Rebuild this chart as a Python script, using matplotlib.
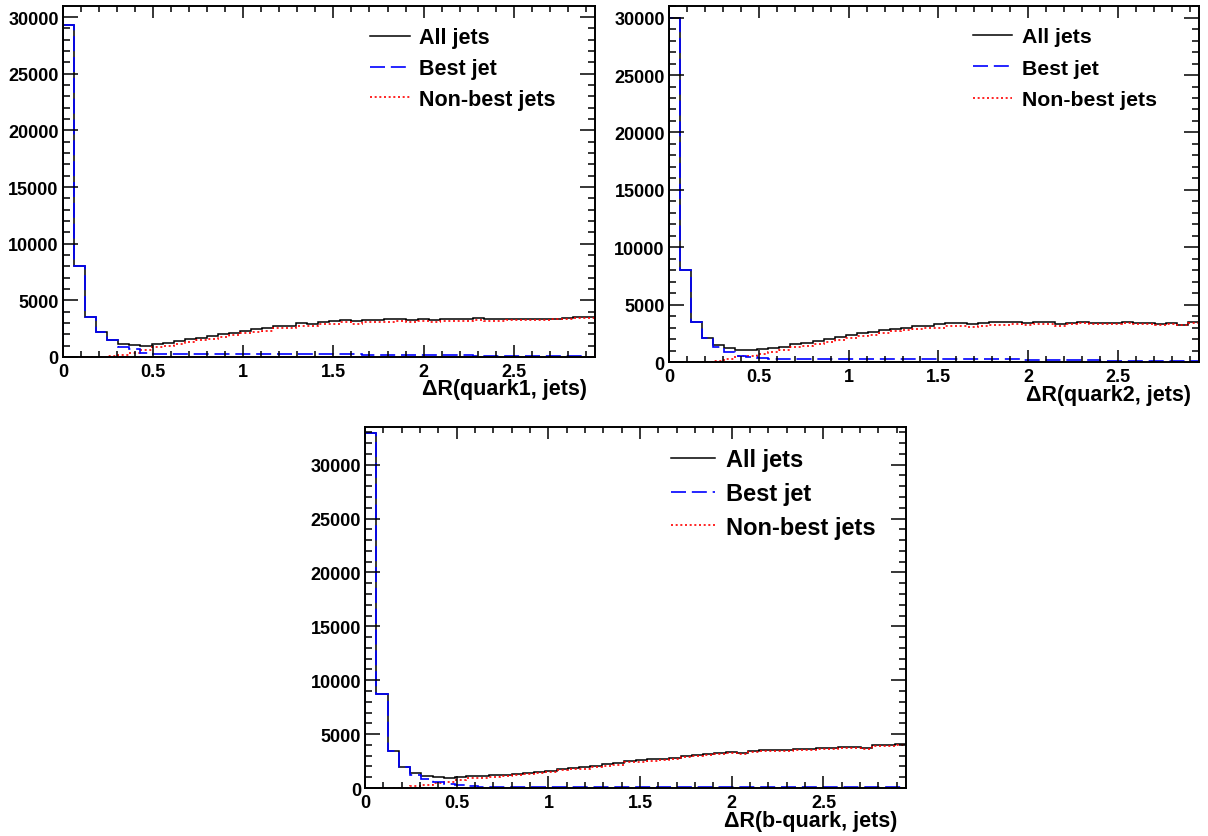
import numpy as np
import matplotlib
matplotlib.use("Agg")
import matplotlib.pyplot as plt
from matplotlib.ticker import MultipleLocator, FixedLocator, FixedFormatter
from matplotlib.lines import Line2D

plt.rcParams['font.family'] = ['Liberation Sans', 'DejaVu Sans']
plt.rcParams['font.weight'] = 'bold'

# ---------------- data ----------------
XMIN, XMAX, NBINS = 0.0, 2.95, 48
series_labels = ["All jets", "Best jet", "Non-best jets"]
xlabels = ["\u0394R(quark1, jets)", "\u0394R(quark2, jets)", "\u0394R(b-quark, jets)"]
xtick_vals = [0, 0.5, 1, 1.5, 2, 2.5]
xtick_labels = ["0", "0.5", "1", "1.5", "2", "2.5"]
ytick_vals = [0, 5000, 10000, 15000, 20000, 25000, 30000]
ytick_labels = ["0", "5000", "10000", "15000", "20000", "25000", "30000"]

all1 = [29300, 8000, 3530, 2210, 1530, 1180, 1030, 940, 1120, 1240, 1380, 1560,
        1710, 1820, 2030, 2150, 2320, 2440, 2560, 2760, 2760, 3000, 2940, 3120,
        3150, 3290, 3150, 3290, 3260, 3320, 3380, 3240, 3350, 3260, 3320, 3350,
        3350, 3410, 3320, 3320, 3380, 3350, 3350, 3350, 3380, 3410, 3530, 3500]
best1 = [29300, 8000, 3530, 2210, 1470, 880, 680, 350, 280, 260, 250, 250,
         240, 240, 240, 240, 240, 230, 230, 230, 230, 230, 230, 230,
         230, 220, 220, 210, 210, 200, 200, 190, 180, 170, 160, 150,
         140, 130, 120, 110, 100, 90, 80, 70, 60, 60, 50, 40]
nonbest1 = [0, 0, 10, 20, 50, 200, 350, 590, 840, 980, 1130, 1310,
            1470, 1580, 1790, 1910, 2080, 2210, 2330, 2530, 2530, 2770, 2710, 2890,
            2920, 3070, 2930, 3080, 3050, 3120, 3180, 3050, 3170, 3090, 3160, 3200,
            3210, 3280, 3200, 3210, 3280, 3260, 3270, 3280, 3320, 3350, 3480, 3460]

all2 = [30000, 8020, 3490, 2060, 1450, 1220, 1080, 1050, 1100, 1250, 1340, 1540,
        1660, 1800, 1980, 2150, 2380, 2500, 2590, 2760, 2910, 2990, 3110, 3170,
        3280, 3400, 3400, 3310, 3430, 3490, 3490, 3520, 3430, 3460, 3520, 3310,
        3430, 3520, 3430, 3400, 3400, 3490, 3370, 3400, 3340, 3430, 3260, 3490]
best2 = [30000, 8020, 3490, 2060, 1340, 900, 520, 440, 350, 280, 270, 270,
         260, 260, 260, 250, 250, 250, 250, 250, 240, 240, 240, 240,
         290, 280, 270, 260, 250, 240, 230, 220, 200, 190, 180, 170,
         160, 150, 140, 130, 120, 110, 100, 90, 80, 80, 70, 60]
nonbest2 = [0, 0, 10, 20, 110, 300, 480, 560, 700, 900, 1070, 1270,
            1400, 1540, 1720, 1900, 2130, 2250, 2340, 2510, 2670, 2750, 2870, 2930,
            2990, 3120, 3130, 3050, 3180, 3250, 3260, 3300, 3230, 3270, 3340, 3140,
            3270, 3370, 3290, 3270, 3280, 3380, 3270, 3310, 3260, 3350, 3190, 3430]

all3 = [32900, 8700, 3470, 1950, 1420, 1080, 1020, 960, 1020, 1080, 1110, 1180,
        1240, 1330, 1390, 1490, 1610, 1760, 1860, 1920, 2040, 2200, 2290, 2480,
        2570, 2660, 2720, 2820, 2940, 3100, 3160, 3220, 3340, 3280, 3440, 3530,
        3560, 3560, 3620, 3620, 3750, 3720, 3780, 3810, 3720, 3960, 3990, 4060]
best3 = [32900, 8700, 3470, 1950, 1240, 800, 560, 370, 250, 150, 140, 130,
         130, 120, 120, 120, 120, 120, 120, 120, 110, 110, 110, 110,
         110, 110, 110, 110, 100, 100, 100, 100, 100, 100, 100, 100,
         90, 90, 90, 90, 90, 80, 80, 80, 80, 70, 70, 70]
nonbest3 = [0, 0, 10, 20, 180, 300, 460, 590, 770, 930, 970, 1050,
            1110, 1210, 1270, 1370, 1490, 1640, 1740, 1800, 1930, 2090, 2180, 2370,
            2460, 2550, 2610, 2710, 2840, 3000, 3060, 3120, 3240, 3180, 3340, 3430,
            3470, 3470, 3530, 3530, 3660, 3640, 3700, 3730, 3640, 3890, 3920, 3990]

panels = [
    dict(data=(all1, best1, nonbest1), xlabel=xlabels[0],
         rect=[0.052, 0.5723, 0.4405, 0.4193], ytop=30970,
         leg_anchor=(0.577, 0.939), leg_fs=15.5, leg_spacing=0.45),
    dict(data=(all2, best2, nonbest2), xlabel=xlabels[1],
         rect=[0.5538, 0.5663, 0.4387, 0.4253], ytop=31010,
         leg_anchor=(0.574, 0.94), leg_fs=15.3, leg_spacing=0.58),
    dict(data=(all3, best3, nonbest3), xlabel=xlabels[2],
         rect=[0.3022, 0.0573, 0.4478, 0.4313], ytop=33490,
         leg_anchor=(0.566, 0.941), leg_fs=17.0, leg_spacing=0.45),
]

styles = [dict(color="black", lw=1.1, ls="-"),
          dict(color="#0000ff", lw=1.2, ls=(0, (9, 3.5))),
          dict(color="#ff0000", lw=1.2, ls=(0, (1.2, 1.6)))]

fig = plt.figure(figsize=(12.08, 8.37), dpi=100)
edges = np.linspace(XMIN, XMAX, NBINS + 1)

for p in panels:
    ax = fig.add_axes(p["rect"])
    for i in [0, 2, 1]:
        st = styles[i]
        ax.stairs(p["data"][i], edges, color=st["color"], lw=st["lw"],
                  linestyle=st["ls"], label=series_labels[i], baseline=0)
    ax.set_xlim(XMIN, XMAX)
    ax.set_ylim(0, p["ytop"])

    ax.xaxis.set_major_locator(FixedLocator(xtick_vals))
    ax.xaxis.set_major_formatter(FixedFormatter(xtick_labels))
    ax.xaxis.set_minor_locator(MultipleLocator(0.1))
    ax.yaxis.set_major_locator(FixedLocator(ytick_vals))
    ax.yaxis.set_major_formatter(FixedFormatter(ytick_labels))
    ax.yaxis.set_minor_locator(MultipleLocator(1000))

    ax.tick_params(axis="both", which="both", direction="in", top=True, right=True,
                   width=1.1, color="black")
    ax.tick_params(axis="y", which="major", length=10.5, labelsize=13, pad=3)
    ax.tick_params(axis="y", which="minor", length=5)
    ax.tick_params(axis="x", which="major", length=8.5, labelsize=13, pad=4.5)
    ax.tick_params(axis="x", which="minor", length=4.3)
    for lab in ax.get_xticklabels() + ax.get_yticklabels():
        lab.set_fontweight("bold")
    for sp in ax.spines.values():
        sp.set_linewidth(1.4)

    ax.annotate(p["xlabel"], xy=(1, 0), xycoords="axes fraction",
                xytext=(-6, -27), textcoords="offset points",
                ha="right", va="baseline", fontsize=15.5, fontweight="bold")

    leg_handles = [Line2D([0], [0], color=styles[i]["color"], lw=styles[i]["lw"],
                          linestyle=styles[i]["ls"]) for i in range(3)]
    ax.legend(leg_handles, series_labels, loc="upper left",
              bbox_to_anchor=p["leg_anchor"], frameon=False,
              prop=dict(weight="bold", size=p["leg_fs"]),
              handlelength=1.85, handletextpad=0.45, borderpad=0,
              borderaxespad=0, labelspacing=p["leg_spacing"])

fig.savefig("out.png", dpi=100)
